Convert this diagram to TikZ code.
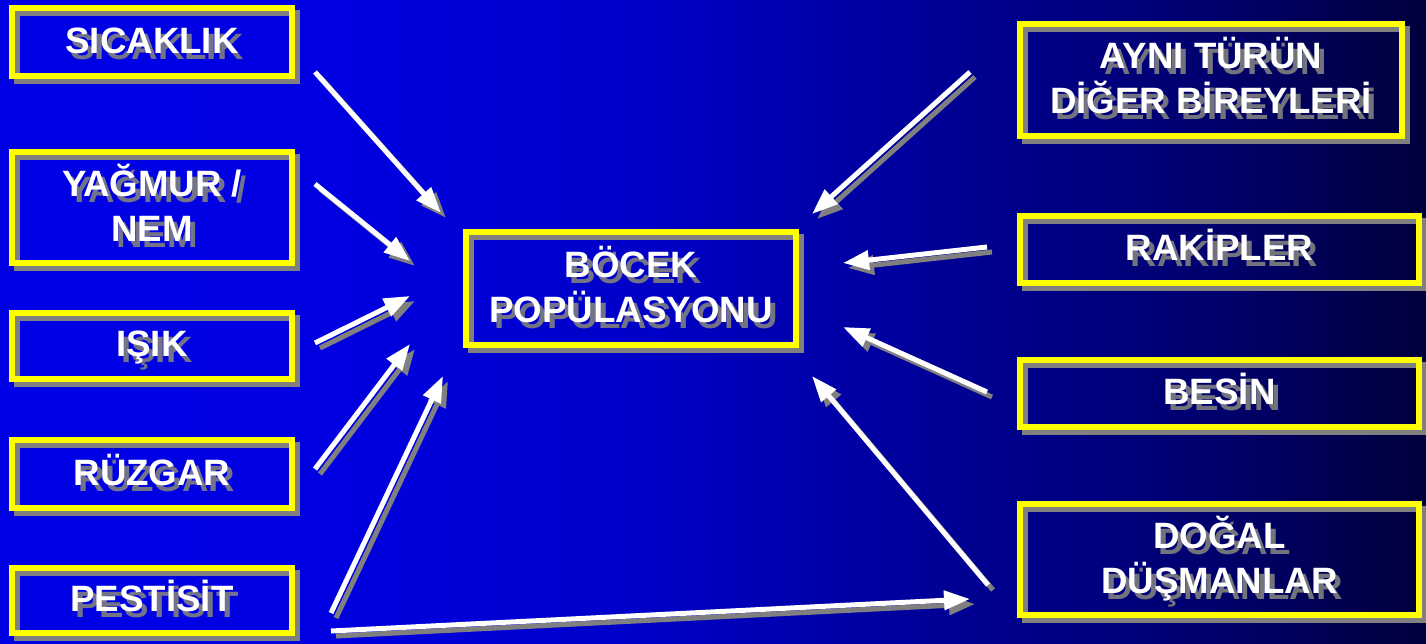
\documentclass[tikz,border=0pt]{standalone}
\usepackage{fontspec}
\setmainfont{Liberation Sans}
\usetikzlibrary{arrows.meta}
\definecolor{bgA}{RGB}{0,0,230}
\definecolor{bgB}{RGB}{0,0,226}
\definecolor{bgC}{RGB}{0,0,200}
\definecolor{bgD}{RGB}{0,0,140}
\definecolor{bgE}{RGB}{0,0,110}
\definecolor{bgF}{RGB}{0,0,60}
\definecolor{boxyellow}{RGB}{255,255,0}
\definecolor{shgray}{RGB}{128,128,128}
\pgfdeclarehorizontalshading{bgshade}{100bp}{color(0bp)=(bgA); color(25bp)=(bgA); color(36bp)=(bgB); color(47.5bp)=(bgC); color(60bp)=(bgD); color(67.5bp)=(bgE); color(75bp)=(bgF); color(100bp)=(bgF)}
\newcommand{\labelfont}{\bfseries\fontsize{27.5}{33.75}\selectfont}
\newcommand{\cl}[1]{\raisebox{0pt}[19.7pt][3pt]{#1}}
% name, cx, cy, w, h, text
\newcommand{\bx}[6]{%
  \draw[boxshadow] (#2-#4/2+5,#3-#5/2+5) rectangle (#2+#4/2+5,#3+#5/2+5);
  \node[tshadow] (#1-ts) at (#2+5,#3+6) {#6};
  \node[box,minimum width=#4*0.75pt,minimum height=#5*0.75pt] (#1) at (#2,#3) {#6};
}
\newcommand{\arr}[2]{%
  \draw[connshadow] ([shift={(5,5)}]#1) -- ([shift={(5,5)}]#2);
  \draw[conn] (#1) -- (#2);
}
\begin{document}
\begin{tikzpicture}[x=0.75pt,y=-0.75pt,
  box/.style={draw=boxyellow, line width=4.5pt, outer sep=0pt, inner sep=0pt,
    font=\labelfont, text=white, align=center},
  boxshadow/.style={draw=shgray, line width=4.5pt},
  tshadow/.style={font=\labelfont, text=shgray, align=center, inner sep=0pt, opacity=0.9},
  conn/.style={draw=white, fill=white, line width=3.75pt, -{Triangle[length=19.5pt,width=14pt]}},
  connshadow/.style={draw=shgray, fill=shgray, line width=3.75pt, -{Triangle[length=19.5pt,width=14pt]}},
]
\useasboundingbox (0,0) rectangle (1426,643);
\shade[shading=bgshade] (0,0) rectangle (1426,643);

% boxes
\bx{sic}{152}{42}{280}{68}{\cl{SICAKLIK}}
\bx{yag}{152}{207.5}{280}{111}{\cl{YAĞMUR /}\\\cl{NEM}}
\bx{isik}{152}{345.5}{280}{66}{\cl{IŞIK}}
\bx{ruz}{152}{474}{280}{68}{\cl{RÜZGAR}}
\bx{pes}{152}{600.5}{280}{65}{\cl{PESTİSİT}}
\bx{bocek}{631}{288.5}{330}{113}{\cl{BÖCEK}\\\cl{POPÜLASYONU}}
\bx{ayni}{1211}{80}{382}{112}{\cl{AYNI TÜRÜN}\\\cl{DİĞER BİREYLERİ}}
\bx{rak}{1219.5}{249.5}{399}{67}{\cl{RAKİPLER}}
\bx{bes}{1219.5}{393.5}{399}{67}{\cl{BESİN}}
\bx{dog}{1219.5}{559.5}{399}{111}{\cl{DOĞAL}\\\cl{DÜŞMANLAR}}

% arrow end points
\coordinate (a1s) at (315,72);   \coordinate (a1e) at (441,213);
\coordinate (a2s) at (315,184);  \coordinate (a2e) at (410,261);
\coordinate (a3s) at (315,343);  \coordinate (a3e) at (410,296);
\coordinate (a4s) at (315,469);  \coordinate (a4e) at (410,344);
\coordinate (a5s) at (331,613);  \coordinate (a5e) at (443,376);
\coordinate (a6s) at (331,631);  \coordinate (a6e) at (970,599);
\coordinate (a7s) at (970,72);   \coordinate (a7e) at (812,214);
\coordinate (a8s) at (987,247);  \coordinate (a8e) at (843,263);
\coordinate (a9s) at (987,392);  \coordinate (a9e) at (843,327);
\coordinate (a10s) at (988,585); \coordinate (a10e) at (812,376);

\arr{a1s}{a1e}
\arr{a2s}{a2e}
\arr{a3s}{a3e}
\arr{a4s}{a4e}
\arr{a5s}{a5e}
\arr{a6s}{a6e}
\arr{a7s}{a7e}
\arr{a8s}{a8e}
\arr{a9s}{a9e}
\arr{a10s}{a10e}
\end{tikzpicture}
\end{document}
